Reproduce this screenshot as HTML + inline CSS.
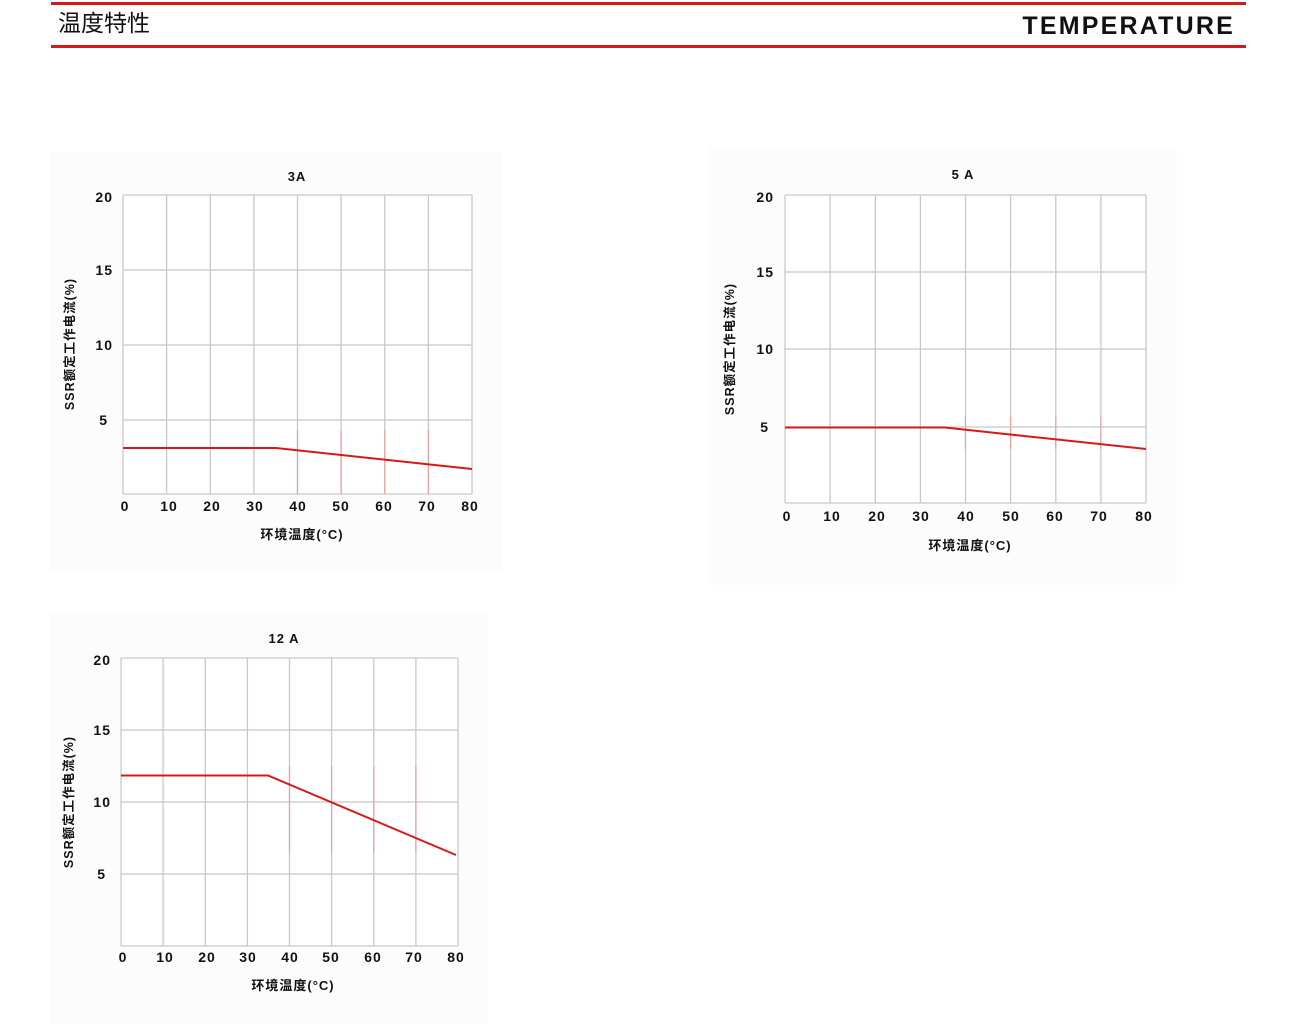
<!DOCTYPE html>
<html><head><meta charset="utf-8"><style>
html,body{margin:0;padding:0;background:#fff;}
body{width:1300px;height:1028px;overflow:hidden;}
svg{display:block}
text{font-family:"Liberation Sans","Noto Sans CJK SC",sans-serif;fill:#111;}
.t{font-weight:600;letter-spacing:1px}
</style></head><body>
<svg width="1300" height="1028" viewBox="0 0 1300 1028" xmlns="http://www.w3.org/2000/svg">
<rect x="51" y="2" width="1195" height="3" fill="#d81818"/>
<rect x="51" y="45" width="1195" height="3" fill="#d81818"/>
<text x="58" y="31" font-size="23" font-family="'Noto Sans CJK SC',sans-serif">温度特性</text>
<text x="1235" y="34" font-size="25" font-weight="bold" text-anchor="end" letter-spacing="2.2">TEMPERATURE</text>

<rect x="50" y="152" width="452" height="418" fill="#fcfcfc"/>
<rect x="708" y="148" width="469" height="437" fill="#fcfcfc"/>
<rect x="50" y="613" width="438" height="410" fill="#fcfcfc"/>
<rect x="123" y="195" width="349" height="299" fill="#fff"/>
<rect x="785" y="195" width="361" height="308" fill="#fff"/>
<rect x="121" y="658" width="337" height="288" fill="#fff"/>

<g stroke="#c8c8c8" stroke-width="1.3" fill="none">
<path d="M123 195H472M123 270H472M123 345H472M123 420H472M123 494H472"/>
<path d="M123 195V494M166.6 195V494M210.3 195V494M253.9 195V494M297.5 195V494M341.1 195V494M384.8 195V494M428.4 195V494M472 195V494"/>
<path d="M785 195H1146M785 272H1146M785 349H1146M785 427H1146M785 503H1146"/>
<path d="M785 195V503M830.1 195V503M875.3 195V503M920.4 195V503M965.5 195V503M1010.6 195V503M1055.8 195V503M1100.9 195V503M1146 195V503"/>
<path d="M121 658H458M121 730H458M121 802H458M121 874H458M121 946H458"/>
<path d="M121 658V946M163.1 658V946M205.3 658V946M247.4 658V946M289.5 658V946M331.6 658V946M373.8 658V946M415.9 658V946M458 658V946"/>
</g>
<g stroke="#e8a0a0" stroke-width="1.2">
<path d="M297.5 430V494M341.1 430V494M384.8 430V494M428.4 430V494"/>
<path d="M965.5 417V449M1010.6 417V449M1055.8 417V449M1100.9 417V449"/>
<path d="M289.5 766V853M331.6 766V853M373.8 766V853M415.9 766V853"/>
</g>
<g stroke="#d81818" stroke-width="2" fill="none">
<path d="M123 448H276L472 469"/>
<path d="M785 427.5H945L1146 449"/>
<path d="M121 775.5H268L456 855"/>
</g>

<g class="t">
<text x="297" y="181" font-size="13" text-anchor="middle">3A</text>
<g font-size="14" text-anchor="end">
<text x="113" y="202">20</text><text x="113" y="275">15</text><text x="113" y="350">10</text><text x="108" y="425">5</text>
</g>
<g font-size="14" text-anchor="middle">
<text x="125" y="511">0</text><text x="169" y="511">10</text><text x="212" y="511">20</text><text x="255" y="511">30</text><text x="298" y="511">40</text><text x="341" y="511">50</text><text x="384" y="511">60</text><text x="427" y="511">70</text><text x="470" y="511">80</text>
</g>
<text x="302" y="539" font-size="13" text-anchor="middle">环境温度(°C)</text>
<text transform="translate(74,344) rotate(-90)" font-size="12.5" text-anchor="middle">SSR额定工作电流(%)</text>

<text x="963" y="179" font-size="13" text-anchor="middle">5 A</text>
<g font-size="14" text-anchor="end">
<text x="774" y="202">20</text><text x="774" y="277">15</text><text x="774" y="354">10</text><text x="769" y="432">5</text>
</g>
<g font-size="14" text-anchor="middle">
<text x="787" y="521">0</text><text x="832" y="521">10</text><text x="877" y="521">20</text><text x="921" y="521">30</text><text x="966" y="521">40</text><text x="1011" y="521">50</text><text x="1055" y="521">60</text><text x="1099" y="521">70</text><text x="1144" y="521">80</text>
</g>
<text x="970" y="550" font-size="13" text-anchor="middle">环境温度(°C)</text>
<text transform="translate(734,349) rotate(-90)" font-size="12.5" text-anchor="middle">SSR额定工作电流(%)</text>

<text x="284" y="643" font-size="13" text-anchor="middle">12 A</text>
<g font-size="14" text-anchor="end">
<text x="111" y="665">20</text><text x="111" y="735">15</text><text x="111" y="807">10</text><text x="106" y="879">5</text>
</g>
<g font-size="14" text-anchor="middle">
<text x="123" y="962">0</text><text x="165" y="962">10</text><text x="207" y="962">20</text><text x="248" y="962">30</text><text x="290" y="962">40</text><text x="331" y="962">50</text><text x="373" y="962">60</text><text x="414" y="962">70</text><text x="456" y="962">80</text>
</g>
<text x="293" y="990" font-size="13" text-anchor="middle">环境温度(°C)</text>
<text transform="translate(73,802) rotate(-90)" font-size="12.5" text-anchor="middle">SSR额定工作电流(%)</text>
</g>
</svg>
</body></html>
